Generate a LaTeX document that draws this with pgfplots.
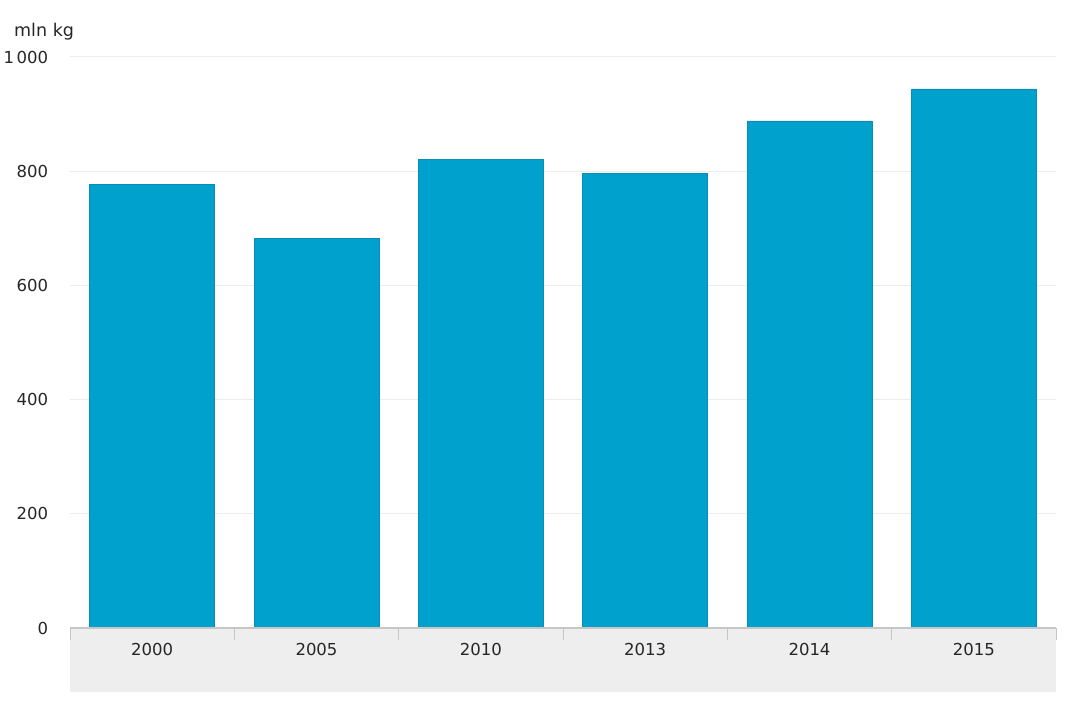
\documentclass[border=0pt]{standalone}
\usepackage{pgfplots}
\pgfplotsset{compat=1.18}
\usepackage{fontspec}
\setmainfont{DejaVu Sans}
\definecolor{barblue}{HTML}{00A1CD}
\definecolor{baredge}{HTML}{0A8DB5}
\definecolor{txt}{HTML}{262626}
\definecolor{band}{HTML}{EEEEEE}
\begin{document}
\begin{tikzpicture}[x=1pt,y=1pt]
\path[use as bounding box,fill=white] (0,0) rectangle (1070,713);
\fill[band] (70,21) rectangle (1056,85);
\node[anchor=base west,text=txt,font=\fontsize{17.5}{20}\selectfont,inner sep=0pt] at (14,676) {mln kg};
\begin{axis}[
  at={(70pt,85pt)}, anchor=south west,
  width=986pt, height=571pt, scale only axis,
  xmin=-0.5, xmax=5.5, ymin=0, ymax=1000,
  axis line style={draw=none},
  xtick={0,1,2,3,4,5},
  xticklabels={2000,2005,2010,2013,2014,2015},
  minor xtick={-0.5,0.5,1.5,2.5,3.5,4.5,5.5},
  xtick pos=lower,
  ytick={0,200,400,600,800,1000},
  yticklabels={0,200,400,600,800,1\hspace{2.5pt}000},
  /pgf/number format/assume math mode=true,
  tick label style={text=txt,font=\fontsize{16.5}{19}\selectfont},
  xticklabel style={anchor=base,yshift=-23pt},
  yticklabel style={anchor=east,xshift=-14pt},
  major x tick style={draw=none},
  ytick style={draw=none},
  tick align=outside,
  minor tick length=12pt,
  minor x tick style={draw=gray!45,line width=1pt},
  ymajorgrids,
  major y grid style={draw=gray!15,line width=1pt},
]
\addplot[ybar, bar width=0.76, fill=barblue, draw=baredge, line width=0.8pt]
  coordinates {(0,777) (1,682) (2,820) (3,796) (4,888) (5,944)};
\end{axis}
\draw[gray!45,line width=1.5pt] (70,85) -- (1056,85);
\end{tikzpicture}
\end{document}
